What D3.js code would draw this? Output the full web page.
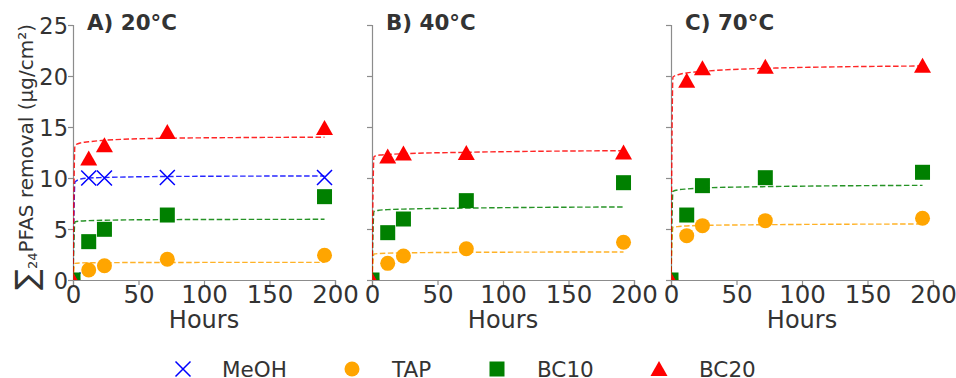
<!DOCTYPE html>
<html>
<head>
<meta charset="utf-8">
<script src="https://cdn.jsdelivr.net/npm/d3@7"></script>
<style>
    body { margin: 0; background: #fff; }
    text { font-family: "DejaVu Sans", sans-serif; fill: #333; }
</style>
</head>
<body>
<div id="chart"></div>
<script>
// sampling times (hours)
var hours = [0, 12, 24, 72, 192];
var fitHours = [0, 1.5, 6, 12, 24, 72, 192];

// measured removal, 20°C
var meoh20 = [0, 10.0, 10.0, 10.05, 10.05];
var tap20 = [0, 0.98, 1.4, 2.03, 2.42];
var bc10_20 = [0, 3.76, 4.97, 6.37, 8.17];
var bc20_20 = [0, 11.9, 13.2, 14.5, 14.9];
// measured removal, 40°C
var tap40 = [0, 1.63, 2.35, 3.07, 3.7];
var bc10_40 = [0, 4.64, 5.98, 7.78, 9.54];
var bc20_40 = [0, 12.1, 12.4, 12.45, 12.5];
// measured removal, 70°C
var tap70 = [0, 4.35, 5.33, 5.82, 6.05];
var bc10_70 = [0, 6.37, 9.25, 10.03, 10.56];
var bc20_70 = [0, 19.54, 20.75, 20.9, 21.0];

// fitted curves (dashed)
var fitMeoh20 = [0, 9.6, 9.9, 10.0, 10.05, 10.15, 10.2];
var fitTap20 = [0, 1.63, 1.67, 1.69, 1.7, 1.72, 1.73];
var fitBc10_20 = [0, 5.7, 5.78, 5.82, 5.86, 5.92, 5.95];
var fitBc20_20 = [0, 13.2, 13.45, 13.55, 13.7, 13.9, 14.0];
var fitTap40 = [0, 2.55, 2.6, 2.63, 2.66, 2.71, 2.75];
var fitBc10_40 = [0, 6.73, 6.85, 6.9, 6.95, 7.05, 7.16];
var fitBc20_40 = [0, 12.1, 12.25, 12.3, 12.38, 12.52, 12.68];
var fitTap70 = [0, 5.17, 5.25, 5.3, 5.35, 5.42, 5.49];
var fitBc10_70 = [0, 8.7, 8.85, 8.92, 9.02, 9.15, 9.28];
var fitBc20_70 = [0, 19.9, 20.15, 20.3, 20.45, 20.75, 20.98];

var titles = ["A) 20°C", "B) 40°C", "C) 70°C"];
var seriesNames = ["MeOH", "TAP", "BC10", "BC20"];
var xTicks = [0, 50, 100, 150, 200];
var yTicks = [0, 5, 10, 15, 20, 25];

var colors = { MeOH: "blue", TAP: "orange", BC10: "green", BC20: "red" };

var panels = [
    { title: titles[0], points: { MeOH: meoh20, TAP: tap20, BC10: bc10_20, BC20: bc20_20 },
      fits: { MeOH: fitMeoh20, TAP: fitTap20, BC10: fitBc10_20, BC20: fitBc20_20 } },
    { title: titles[1], points: { TAP: tap40, BC10: bc10_40, BC20: bc20_40 },
      fits: { TAP: fitTap40, BC10: fitBc10_40, BC20: fitBc20_40 } },
    { title: titles[2], points: { TAP: tap70, BC10: bc10_70, BC20: bc20_70 },
      fits: { TAP: fitTap70, BC10: fitBc10_70, BC20: fitBc20_70 } }
];

var W = 956, H = 378;
var panelLeft = [73, 372, 671],
    panelWidth = 262,
    plotTop = 25,
    plotBottom = 280;

var svg = d3.select("#chart")
    .append("svg")
    .attr("width", W)
    .attr("height", H);

svg.append("rect").attr("width", W).attr("height", H).attr("fill", "#fff");

// draw one marker shape
function marker(g, name, size) {
    var h = size / 2;
    if (name == "MeOH") {
        return g.append("path")
            .attr("d", "M" + (-h) + "," + (-h) + "L" + h + "," + h + "M" + (-h) + "," + h + "L" + h + "," + (-h))
            .attr("fill", "none")
            .attr("stroke", colors[name])
            .attr("stroke-width", 1.5);
    }
    if (name == "TAP") {
        return g.append("circle").attr("r", h).attr("fill", colors[name]);
    }
    if (name == "BC10") {
        return g.append("rect").attr("x", -h).attr("y", -h)
            .attr("width", size).attr("height", size).attr("fill", colors[name]);
    }
    return g.append("path")
        .attr("d", "M0," + (-h - 0.5) + "L" + (h + 1) + "," + (h - 0.5) + "L" + (-h - 1) + "," + (h - 0.5) + "Z")
        .attr("fill", colors[name]);
}

panels.forEach(function (p, i) {
    var x = d3.scaleLinear().domain([0, 200]).range([panelLeft[i], panelLeft[i] + panelWidth]);
    var y = d3.scaleLinear().domain([0, 25]).range([plotBottom, plotTop]);

    var g = svg.append("g");

    // clip like the axes box
    g.append("clipPath").attr("id", "clip" + i)
        .append("rect")
        .attr("x", x(0)).attr("y", y(25))
        .attr("width", panelWidth).attr("height", plotBottom - plotTop);

    // Add X axis
    var xAxis = g.append("g")
        .attr("transform", "translate(0," + plotBottom + ")")
        .call(d3.axisBottom(x).tickValues(xTicks).tickSize(5).tickPadding(1));

    // Add Y axis
    var yAxis = g.append("g")
        .attr("transform", "translate(" + x(0) + ",0)")
        .call(d3.axisLeft(y).tickValues(yTicks).tickSize(5).tickPadding(0)
            .tickFormat(i == 0 ? d3.format("d") : ""));

    [xAxis, yAxis].forEach(function (a) {
        a.select(".domain").attr("stroke", "#8c8c8c").attr("stroke-width", 1.2);
        a.selectAll(".tick line").attr("stroke", "#8c8c8c").attr("stroke-width", 1.2);
        a.selectAll("text").style("font-size", "24.5px").attr("fill", "#333")
            .style("font-family", "'DejaVu Sans', sans-serif");
    });
    yAxis.selectAll("text").attr("dy", "0.36em").style("font-size", "22.5px");

    var plot = g.append("g").attr("clip-path", "url(#clip" + i + ")");

    // points
    seriesNames.forEach(function (s) {
        if (!p.points[s]) return;
        p.points[s].forEach(function (v, j) {
            var m = plot.append("g").attr("transform", "translate(" + x(hours[j]) + "," + y(v) + ")");
            marker(m, s, 15);
        });
    });

    // fitted curves
    var line = d3.line()
        .x(function (d, j) { return x(fitHours[j]); })
        .y(function (d) { return y(d); })
        .curve(d3.curveMonotoneX);

    seriesNames.forEach(function (s) {
        if (!p.fits[s]) return;
        plot.append("path")
            .attr("d", line(p.fits[s]))
            .attr("fill", "none")
            .attr("stroke", colors[s])
            .attr("stroke-opacity", 0.85)
            .attr("stroke-width", 1.4)
            .attr("stroke-dasharray", "5.5,2.5");
    });

    // panel title
    g.append("text")
        .attr("x", x(0) + 14)
        .attr("y", 30)
        .style("font-size", "21.4px")
        .style("font-weight", "bold")
        .text(p.title);

    // x label
    g.append("text")
        .attr("x", (x(0) + x(200)) / 2)
        .attr("y", 328)
        .attr("text-anchor", "middle")
        .style("font-size", "24px")
        .text("Hours");
});

// y label
var yl = svg.append("text")
    .attr("transform", "translate(33,157) rotate(-90)")
    .attr("text-anchor", "middle")
    .style("font-size", "20px");
yl.append("tspan").style("font-size", "31px").attr("dy", "4").text("∑");
yl.append("tspan").style("font-size", "13px").attr("dy", "0").text("24");
yl.append("tspan").attr("dy", "-4").text("PFAS removal (µg/cm²)");

// legend
var legendMarkX = [183, 352, 497, 659];
var legendTextX = [222, 392, 537, 699];
seriesNames.forEach(function (s, k) {
    var m = svg.append("g").attr("transform", "translate(" + legendMarkX[k] + ",369)");
    marker(m, s, 15);
    svg.append("text")
        .attr("x", legendTextX[k])
        .attr("y", 377)
        .style("font-size", "21.5px")
        .text(s);
});
</script>
</body>
</html>
